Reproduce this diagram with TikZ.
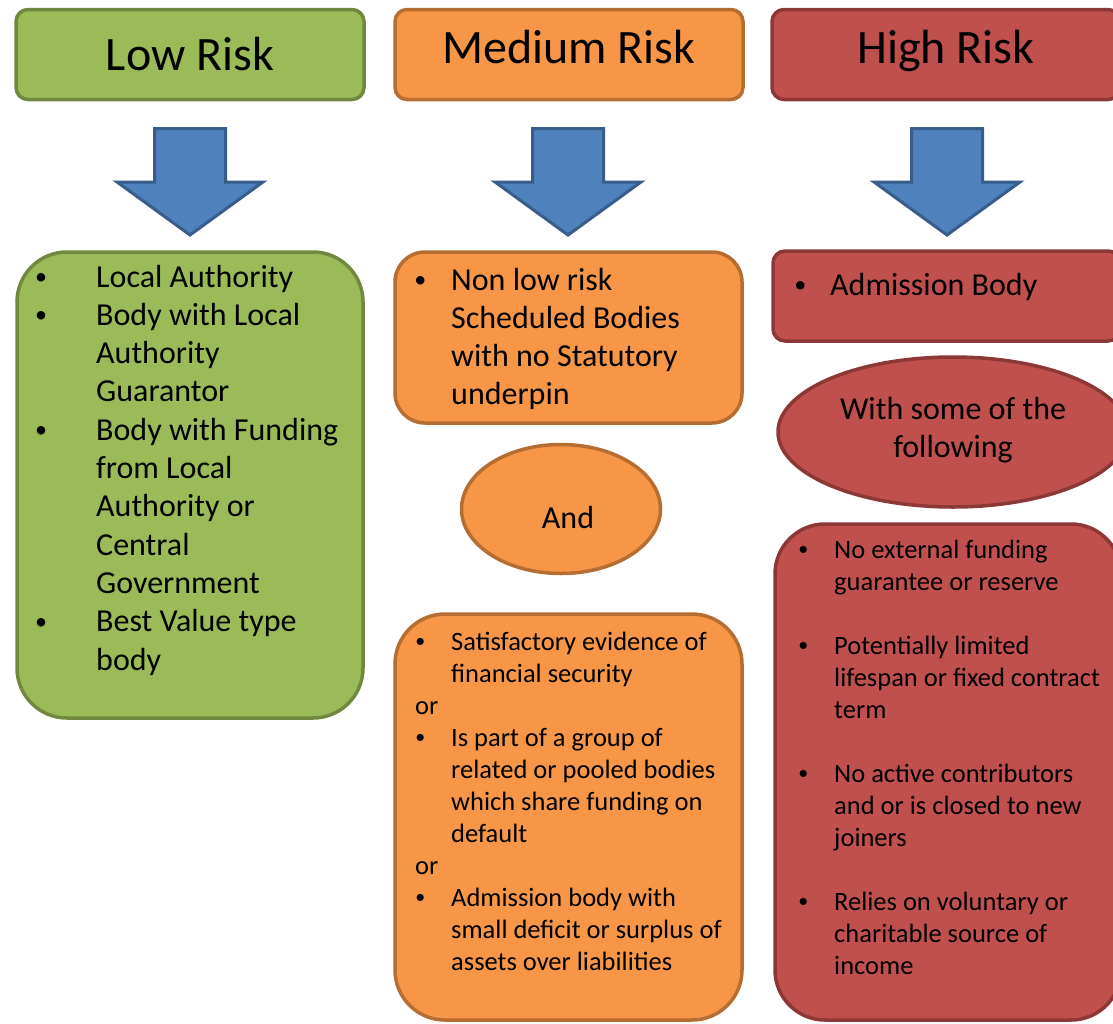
\documentclass[tikz,border=0pt]{standalone}
\usepackage{fontspec}
\usepackage{graphicx}
\setmainfont{Carlito}
\usetikzlibrary{shapes.geometric}
\definecolor{lowfill}{HTML}{9BBB59}
\definecolor{lowline}{HTML}{71893F}
\definecolor{medfill}{HTML}{F79646}
\definecolor{medline}{HTML}{B66D31}
\definecolor{highfill}{HTML}{C0504D}
\definecolor{highline}{HTML}{8C3836}
\definecolor{arrfill}{HTML}{4F81BD}
\definecolor{arrline}{HTML}{385D8A}
\newcommand\mybigfont{\fontsize{32}{38.3}\selectfont}
\newcommand\mysmallfont{\fontsize{26.5}{32}\selectfont}
\newcommand\bul[1]{\makebox[0pt][r]{\raisebox{0.08em}{\scalebox{0.75}{\textbullet}}\hspace*{#1}}}
\tikzset{
  lowcol/.style={fill=lowfill,draw=lowline},
  medcol/.style={fill=medfill,draw=medline},
  highcol/.style={fill=highfill,draw=highline},
  shapebox/.style={draw,line width=3.5pt,inner sep=0pt},
  hdr/.style={shapebox,rounded corners=12pt,minimum width=348pt,minimum height=90pt,
    font=\fontsize{48}{57}\selectfont,text depth=0pt},
  blockarrow/.style={fill=arrfill,draw=arrline,line width=3pt,line join=miter},
  txt/.style={anchor=base west,inner sep=0pt}
}
\begin{document}
\begin{tikzpicture}[x=1pt,y=-1pt]
\useasboundingbox (0,0) rectangle (1113,1023);

% headers
\node[hdr,lowcol,text height=31pt] (lowhdr) at (190,54.5) {Low Risk};
\node[hdr,medcol,text height=17pt] (medhdr) at (569,54.5) {Medium Risk};
\node[hdr,highcol,text height=17pt] (highhdr) at (946,54.5) {High Risk};

% block arrows
\foreach \cx in {190,568,947}{
  \draw[blockarrow] (\cx-35.5,128.5) -- (\cx+35.5,128.5) -- (\cx+35.5,182)
    -- (\cx+73,182) -- (\cx,235) -- (\cx-73,182) -- (\cx-35.5,182) -- cycle;
}

% low column
\node[shapebox,lowcol,rounded corners=50pt,minimum width=346pt,minimum height=466pt] (lowbox) at (190,485) {};
\node[txt,font=\mybigfont] (lowtxt) at (96,287) {\parbox[t]{265pt}{%
\bul{49pt}Local Authority\\
\bul{49pt}Body with Local\\
Authority\\
Guarantor\\
\bul{49pt}Body with Funding\\
from Local\\
Authority or\\
Central\\
Government\\
\bul{49pt}Best Value type\\
body}};

% medium column
\node[shapebox,medcol,rounded corners=30pt,minimum width=347pt,minimum height=171pt] (medbox) at (568.5,337.5) {};
\node[txt,font=\mybigfont] (medtxt) at (451,290) {\parbox[t]{280pt}{%
\bul{25pt}Non low risk\\
Scheduled Bodies\\
with no Statutory\\
underpin}};

\node[shapebox,medcol,ellipse,minimum width=199pt,minimum height=129pt,
  font=\mybigfont,text height=38pt,text depth=0pt] (andnode) at (561,509) {\hspace*{14pt}And};

\node[shapebox,medcol,rounded corners=50pt,minimum width=347pt,minimum height=406pt] (medbox2) at (568.5,817) {};
\node[txt,font=\mysmallfont] (medtxt2) at (451,650) {\parbox[t]{290pt}{%
\bul{26pt}Satisfactory evidence of\\
financial security\\
\hspace*{-36pt}or\\
\bul{26pt}Is part of a group of\\
related or pooled bodies\\
which share funding on\\
default\\
\hspace*{-36pt}or\\
\bul{26pt}Admission body with\\
small deficit or surplus of\\
assets over liabilities}};

% high column
\node[shapebox,highcol,rounded corners=12pt,minimum width=347pt,minimum height=90pt] (highbox) at (946.5,296) {};
\node[txt,font=\mybigfont] (hightxt) at (830,295) {\bul{24pt}Admission Body};

\node[shapebox,highcol,ellipse,minimum width=350pt,minimum height=150pt,font=\mybigfont] (somenode) at (953,432)
  {\raisebox{0pt}[0pt][26pt]{\parbox[t]{230pt}{\centering With some of the\\ following}}};

\node[shapebox,highcol,rounded corners=50pt,minimum width=346pt,minimum height=496pt] (highbox2) at (948,772) {};
\node[txt,font=\mysmallfont] (hightxt2) at (834,558) {\parbox[t]{275pt}{%
\bul{26pt}No external funding\\
guarantee or reserve\\[32pt]
\bul{26pt}Potentially limited\\
lifespan or fixed contract\\
term\\[32pt]
\bul{26pt}No active contributors\\
and or is closed to new\\
joiners\\[32pt]
\bul{26pt}Relies on voluntary or\\
charitable source of\\
income}};
\end{tikzpicture}
\end{document}
